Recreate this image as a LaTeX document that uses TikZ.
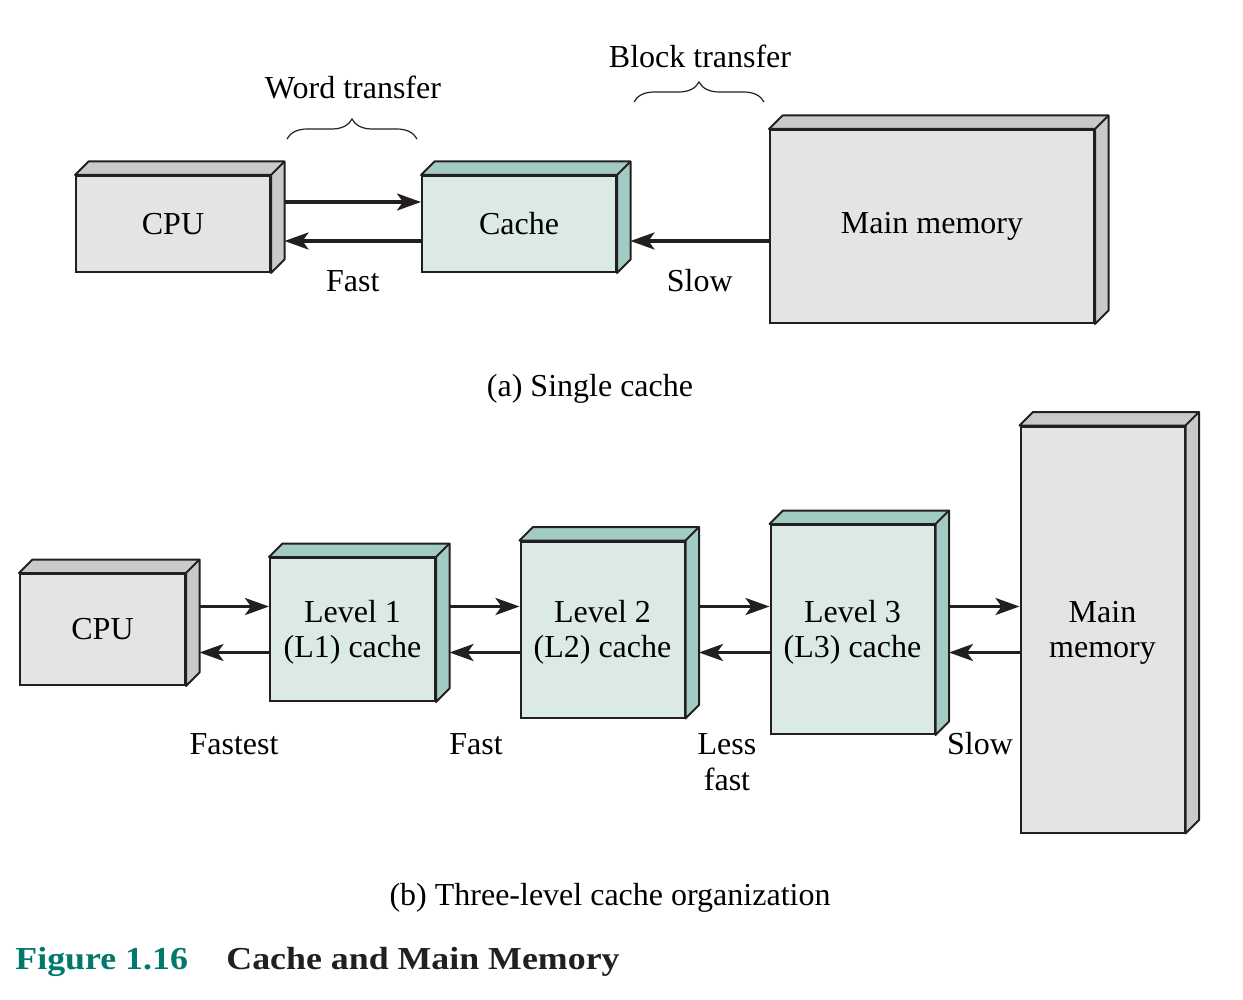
\documentclass[tikz,border=0pt]{standalone}
\usepackage{fontspec}
\setmainfont{Liberation Serif}
\usetikzlibrary{arrows.meta,positioning,calc,decorations.pathreplacing}
\definecolor{edge}{HTML}{231F20}
\definecolor{memfront}{HTML}{E4E4E4}
\definecolor{memside}{HTML}{C9C9C9}
\definecolor{cachefront}{HTML}{DCEAE6}
\definecolor{cacheside}{HTML}{A2CBC4}
\definecolor{figteal}{HTML}{00786C}
\tikzset{
box/.style = {draw=edge, line width=1pt, fill=memfront, rectangle, align=center, inner sep=0pt, font=\fontsize{16}{17.5}\selectfont},
cachebox/.style = {box, fill=cachefront},
twoline/.style = {text height=31pt, text depth=3.5pt},
link/.style = {-{Stealth[length=12pt,width=8.5pt,inset=3pt]}, line width=1.6pt, draw=edge},
note/.style = {font=\fontsize{16}{18}\selectfont, align=center, inner sep=0pt},
wrap/.style = {draw=edge, line width=0.6pt, decorate, decoration={brace, amplitude=10pt}}
}
% top and right faces of a box node
\newcommand{\depthface}[2]{%
\draw[line width=1pt, draw=edge, fill=#2, line join=round] (#1.north west) -- ++(6.75pt,6.75pt) -| ([shift={(6.75pt,6.75pt)}]#1.south east) -- (#1.south east) -- (#1.north east) -- cycle;
\draw[line width=1pt, draw=edge] (#1.north east) -- ++(6.75pt,6.75pt);
}

\begin{document}
\begin{tikzpicture}[x=0.5pt, y=-0.5pt, node distance=125pt]
\useasboundingbox (0,0) rectangle (1243,1000);

% (a) single cache
\node[box, minimum width=97pt, minimum height=48pt] (cpu) at (173,224) {CPU};
\node[cachebox, minimum width=97pt, minimum height=48pt, right of=cpu, node distance=173pt] (cache) {Cache};
\node[box, minimum width=162pt, minimum height=96.5pt, right of=cache, node distance=206.5pt, yshift=-1.25pt] (mem) {Main memory};
\depthface{cpu}{memside}
\depthface{cache}{cacheside}
\depthface{mem}{memside}
\draw[link] ([xshift=6.75pt,yshift=11pt]cpu.east) -- ([yshift=11pt]cache.west);
\draw[link] ([yshift=-8.5pt]cache.west) -- node[note, yshift=-20pt] (fast) {Fast} ([xshift=6.75pt,yshift=-8.5pt]cpu.east);
\draw[link] ([yshift=-7.25pt]mem.west) -- node[note, yshift=-20pt] (slow) {Slow} ([xshift=6.75pt,yshift=-8.5pt]cache.east);
\coordinate (w1) at (287,139);
\coordinate (w2) at (417,139);
\coordinate (b1) at (634,102);
\coordinate (b2) at (764,102);
\draw[wrap] (w1) -- (w2);
\draw[wrap] (b1) -- (b2);
\node[note] (word) at (353,87) {Word transfer};
\node[note] (block) at (700,56) {Block transfer};
\node[note, anchor=base] (capa) at (590,397) {(a) Single cache};

% (b) three-level cache
\node[box, minimum width=82.5pt, minimum height=55.5pt] (cpub) at (102.5,629.5) {CPU};
\node[cachebox, twoline, minimum width=82.5pt, minimum height=71.5pt, right of=cpub] (l1) {Level 1\\(L1) cache};
\node[cachebox, twoline, minimum width=82pt, minimum height=88pt, right of=l1] (l2) {Level 2\\(L2) cache};
\node[cachebox, twoline, minimum width=82pt, minimum height=104.5pt, right of=l2] (l3) {Level 3\\(L3) cache};
\node[box, twoline, minimum width=82pt, minimum height=203pt, right of=l3] (memb) {Main\\memory};
\depthface{cpub}{memside}
\depthface{l1}{cacheside}
\depthface{l2}{cacheside}
\depthface{l3}{cacheside}
\depthface{memb}{memside}
\draw[link] ([xshift=6.75pt,yshift=11.5pt]cpub.east) -- ([yshift=11.5pt]l1.west);
\draw[link] ([yshift=-11.5pt]l1.west) -- ([xshift=6.75pt,yshift=-11.5pt]cpub.east);
\draw[link] ([xshift=6.75pt,yshift=11.5pt]l1.east) -- ([yshift=11.5pt]l2.west);
\draw[link] ([yshift=-11.5pt]l2.west) -- ([xshift=6.75pt,yshift=-11.5pt]l1.east);
\draw[link] ([xshift=6.75pt,yshift=11.5pt]l2.east) -- ([yshift=11.5pt]l3.west);
\draw[link] ([yshift=-11.5pt]l3.west) -- ([xshift=6.75pt,yshift=-11.5pt]l2.east);
\draw[link] ([xshift=6.75pt,yshift=11.5pt]l3.east) -- ([yshift=11.5pt]memb.west);
\draw[link] ([yshift=-11.5pt]memb.west) -- ([xshift=6.75pt,yshift=-11.5pt]l3.east);
\node[note] (fastest) at (234,744) {Fastest};
\node[note] (fastb) at (476,744) {Fast};
\node[note] (lessfast) at (727,762) {Less\\fast};
\node[note] (slowb) at (980,744) {Slow};
\node[note, anchor=base] (capb) at (610,905) {(b) Three-level cache organization};

% figure caption
\node[anchor=base west, inner sep=0pt, font=\fontsize{16}{18}\selectfont\bfseries, text=figteal] (fignum) at (15,969) {\scalebox{1.12}[1]{Figure 1.16}};
\node[anchor=base west, inner sep=0pt, font=\fontsize{16}{18}\selectfont\bfseries, text=edge] (figtitle) at (226,969) {\scalebox{1.12}[1]{Cache and Main Memory}};
\end{tikzpicture}
\end{document}
